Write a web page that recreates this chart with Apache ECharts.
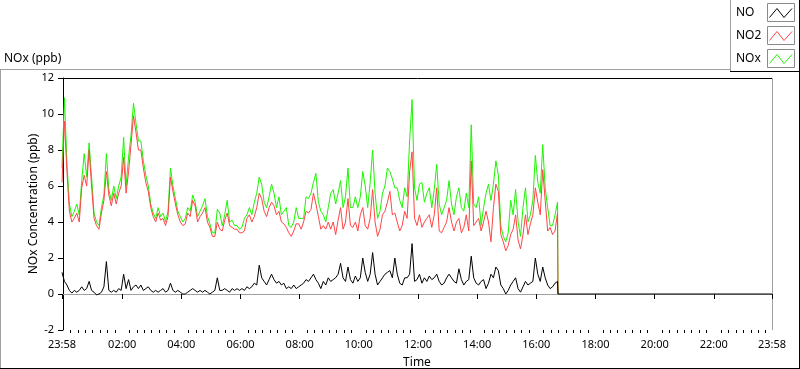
<!DOCTYPE html>
<html>
<head>
<meta charset="utf-8">
<script src="https://cdn.jsdelivr.net/npm/echarts@6/dist/echarts.min.js"></script>
<style>
html,body{margin:0;padding:0;background:#fff;}
#chart{width:800px;height:369px;}
</style>
</head>
<body>
<div id="chart"></div>
<script>
// ---- data (minutes relative to midnight; 23:58 of the previous day = -2) ----
const startMinute = -2;
const stepMinutes = 5;
const dataEndMinute = 1004;   // logging stops here, traces fall to 0
const axisEndMinute = 1438;   // 23:58

const noValues = [
  1.2,0.7,0.5,0.2,0.05,0.2,0.1,0.2,0.4,0.2,
  0.3,0.7,0.2,0.1,-0.05,0.0,0.1,0.4,1.8,0.2,
  0.1,0.2,0.1,0.3,0.2,1.1,0.3,0.8,0.2,0.4,
  0.5,0.3,0.5,0.2,0.3,0.4,0.2,0.1,0.2,0.1,
  0.2,0.3,0.1,0.2,0.6,0.2,0.1,0.2,0.1,0.0,
  0.0,0.1,0.2,0.3,0.2,0.1,0.2,0.1,0.2,0.1,
  0.0,0.1,0.2,0.9,0.2,0.2,0.3,0.2,0.1,0.3,
  0.2,0.3,0.2,0.3,0.2,0.4,0.3,0.4,0.6,0.5,
  1.6,0.9,0.7,0.5,0.8,1.1,0.8,0.6,0.7,0.5,
  0.6,0.3,0.4,0.3,0.5,0.3,0.4,0.5,0.6,0.8,
  0.7,0.9,1.1,0.8,0.6,0.3,0.7,0.5,0.9,0.7,
  0.8,0.9,1.1,1.7,0.9,0.7,1.5,0.8,0.6,1.0,
  0.7,0.9,2.0,1.2,0.7,1.1,2.3,1.1,0.5,0.7,
  0.9,1.1,1.2,1.3,0.9,2.0,1.1,0.6,0.5,0.9,
  0.9,1.1,2.8,0.7,0.8,1.1,0.6,0.9,0.7,1.0,
  0.8,0.9,1.1,0.7,0.5,0.6,0.9,1.1,0.9,0.7,
  0.6,1.4,0.8,0.5,0.7,0.8,2.1,0.9,0.6,0.5,
  0.7,0.8,0.3,0.6,1.1,0.9,1.5,1.3,0.5,0.3,
  0.0,0.2,0.5,0.7,0.9,0.3,0.1,0.4,0.7,0.5,
  0.6,0.7,2.0,1.1,0.7,1.5,0.9,0.5,0.3,0.4,
  0.6,0.7
];

const no2Values = [
  6.2,9.6,6.8,4.6,4.0,4.2,4.5,4.0,5.9,6.6,
  6.0,8.0,6.0,4.2,3.8,3.6,4.5,5.2,6.8,5.5,
  4.9,5.6,5.0,5.6,6.0,7.6,5.6,6.8,8.3,9.9,
  9.0,8.0,8.0,7.0,6.2,5.7,4.8,4.3,4.0,4.5,
  4.1,4.2,3.8,4.3,6.5,5.7,5.0,4.4,4.0,3.8,
  3.9,4.5,4.3,5.2,4.9,4.0,4.3,4.5,4.8,4.0,
  3.7,3.2,3.2,4.0,3.6,3.5,4.1,4.5,3.8,3.7,
  3.6,3.6,3.4,3.4,3.5,4.2,4.4,4.0,4.3,4.8,
  5.6,5.3,4.6,4.3,4.8,5.1,4.9,4.4,4.6,4.0,
  3.9,3.7,3.4,3.2,3.5,3.9,3.9,3.6,4.0,4.6,
  4.5,4.7,5.6,5.0,4.3,3.6,3.8,3.6,4.0,3.6,
  4.0,3.3,4.1,4.8,3.6,4.0,5.3,3.8,3.7,4.0,
  3.5,4.4,4.8,3.8,3.6,4.2,5.8,4.0,3.2,3.6,
  4.4,4.6,5.1,5.7,4.4,4.5,4.0,3.5,3.8,4.6,
  4.2,6.8,7.9,4.2,3.8,4.4,3.7,4.0,4.2,4.4,
  3.7,4.4,5.9,3.5,3.4,3.7,4.0,4.8,4.0,3.5,
  4.0,4.2,3.4,3.7,4.4,3.5,7.4,3.8,4.0,4.2,
  3.5,4.0,4.6,4.0,2.9,4.8,6.1,5.7,3.3,2.9,
  2.4,2.7,3.3,3.6,4.4,3.0,2.5,3.3,4.4,3.3,
  3.9,4.4,5.9,5.1,4.4,6.9,5.2,3.5,3.7,3.3,
  3.5,4.5
];

const noxValues = [
  7.0,10.9,7.3,5.0,4.3,4.6,5.0,4.4,6.3,7.8,
  6.5,8.4,6.5,4.5,4.0,3.8,4.8,5.5,7.8,5.8,
  5.2,6.0,5.3,6.0,6.5,8.7,6.0,7.6,8.8,10.6,
  9.5,8.5,8.5,7.4,6.6,6.0,5.0,4.5,4.2,4.8,
  4.3,4.5,4.0,4.6,7.0,6.0,5.3,4.6,4.3,4.0,
  4.2,4.8,4.6,5.5,5.1,4.3,4.6,4.9,5.3,4.3,
  3.9,3.4,3.4,4.7,4.5,3.8,4.4,5.2,4.0,4.1,
  3.8,3.8,3.6,3.7,4.2,4.4,4.8,4.4,5.1,5.6,
  6.5,6.1,5.1,4.8,5.4,6.1,5.6,4.8,5.4,4.4,
  4.6,4.8,3.8,3.7,4.0,4.8,4.2,4.2,4.2,5.4,
  5.3,5.6,6.2,6.7,5.1,4.6,4.4,4.0,4.8,5.6,
  5.8,5.0,5.6,6.3,4.8,5.4,7.0,4.8,4.8,5.4,
  4.8,5.4,6.8,6.0,4.8,6.2,8.0,5.6,4.2,4.6,
  5.6,6.0,7.0,6.8,6.4,5.9,5.9,5.2,4.8,5.9,
  5.4,8.5,10.8,5.9,5.2,6.1,6.2,5.1,5.6,5.9,
  4.8,5.8,7.2,5.0,4.4,4.8,5.2,6.3,5.0,4.4,
  5.4,5.9,4.8,4.6,5.6,4.8,9.4,5.0,4.8,5.4,
  3.8,4.8,5.6,6.1,5.2,6.1,7.4,6.6,3.8,3.2,
  2.9,3.4,5.2,4.4,5.8,4.0,3.2,4.8,5.9,4.0,
  4.4,5.2,7.7,6.2,5.6,8.3,5.9,4.8,3.8,3.8,
  4.4,5.1
];

const seriesNames = ['NO', 'NO2', 'NOx'];
const seriesColors = ['#000000', '#ff4545', '#1cf500'];

const xTickMinutes = [-2,120,240,360,480,600,720,840,960,1080,1200,1320,1438];
const xTickLabels  = ['23:58','02:00','04:00','06:00','08:00','10:00','12:00','14:00','16:00','18:00','20:00','22:00','23:58'];
const yMin = -2, yMax = 12, yStep = 2;

// ---- build series data ----
function toPairs(values) {
  return values.map((v, i) => [startMinute + i * stepMinutes, v]);
}
const noData = toPairs(noValues).concat([[dataEndMinute, 0], [axisEndMinute, 0]]);
const no2Data = toPairs(no2Values).concat([[dataEndMinute, 0]]);
const noxData = toPairs(noxValues).concat([[dataEndMinute, 0]]);

const minorTicks = [];
for (let m = 15; m < axisEndMinute; m += 15) {
  if (m % 120 !== 0) minorTicks.push(m);
}

const FONT = '"Noto Sans", sans-serif';
const chart = echarts.init(document.getElementById('chart'), null, {renderer: 'canvas'});

const grey = '#a0a0a0';
function hline(x1, x2, y, color) {
  return {type: 'line', shape: {x1: x1, y1: y, x2: x2, y2: y}, style: {stroke: color, lineWidth: 1}, silent: true};
}
function vline(x, y1, y2, color) {
  return {type: 'line', shape: {x1: x, y1: y1, x2: x, y2: y2}, style: {stroke: color, lineWidth: 1}, silent: true};
}

const legendGraphics = [];
seriesNames.forEach((name, i) => {
  const top = 3.5 + i * 23;
  legendGraphics.push({
    type: 'text', x: 736, y: top + 9.5,
    style: {text: name, fill: '#000', font: '12px ' + FONT, verticalAlign: 'middle', align: 'left'}
  });
  legendGraphics.push({
    type: 'rect', shape: {x: 767.5, y: top, width: 27, height: 18},
    style: {fill: '#fff', stroke: '#8a8a8a', lineWidth: 1}
  });
  legendGraphics.push({
    type: 'polyline',
    shape: {points: [[769.5, top + 14], [777, top + 5], [784, top + 14], [792, top + 5]]},
    style: {stroke: seriesColors[i], lineWidth: 1, fill: null}
  });
});

const option = {
  animation: false,
  backgroundColor: '#ffffff',
  grid: {left: 62, top: 78, right: 28, bottom: 39, containLabel: false, outerBoundsMode: 'none'},
  xAxis: [
    {
      type: 'value', min: startMinute, max: axisEndMinute,
      axisLine: {show: true, lineStyle: {color: grey, width: 1}},
      axisTick: {show: true, customValues: xTickMinutes, length: 5, lineStyle: {color: '#000'}},
      axisLabel: {
        show: true, customValues: xTickMinutes, margin: 9,
        color: '#000', fontSize: 11, fontFamily: FONT,
        formatter: function (v) { const i = xTickMinutes.indexOf(v); return i >= 0 ? xTickLabels[i] : ''; }
      },
      splitLine: {show: false},
      name: 'Time', nameLocation: 'middle', nameGap: 27, nameMoveOverlap: false,
      nameTextStyle: {color: '#000', fontSize: 12, fontFamily: FONT}
    },
    {
      type: 'value', min: startMinute, max: axisEndMinute, position: 'bottom',
      axisLine: {show: false},
      axisTick: {show: true, customValues: minorTicks, length: 3, lineStyle: {color: '#000'}},
      axisLabel: {show: false},
      splitLine: {show: false}
    }
  ],
  yAxis: {
    type: 'value', min: yMin, max: yMax, interval: yStep,
    axisLine: {show: true, lineStyle: {color: '#000', width: 1}},
    axisTick: {show: true, length: 5, lineStyle: {color: '#000'}},
    axisLabel: {color: '#000', fontSize: 11, fontFamily: FONT, margin: 8},
    splitLine: {show: false},
    name: 'NOx Concentration (ppb)', nameLocation: 'middle', nameGap: 22, nameMoveOverlap: false,
    nameTextStyle: {color: '#000', fontSize: 12, fontFamily: FONT}
  },
  series: [
    {name: 'NOx', type: 'line', data: noxData, showSymbol: false, symbol: 'none',
     lineStyle: {color: seriesColors[2], width: 1}, z: 2, animation: false},
    {name: 'NO2', type: 'line', data: no2Data, showSymbol: false, symbol: 'none',
     lineStyle: {color: seriesColors[1], width: 1}, z: 3, animation: false},
    {name: 'NO', type: 'line', data: noData, showSymbol: false, symbol: 'none',
     lineStyle: {color: seriesColors[0], width: 1}, z: 4, animation: false}
  ],
  graphic: [
    hline(0, 730, 69.5, grey),
    vline(0.5, 69, 369, grey),
    vline(799.5, 0, 369, '#000'),
    hline(0, 800, 368.5, '#000'),
    vline(730.5, 0, 72, grey),
    hline(730, 800, 71.5, '#000'),
    hline(62, 773, 78.5, '#000'),
    vline(772.5, 78, 330, grey),
    {type: 'text', x: 4, y: 59, style: {text: 'NOx (ppb)', fill: '#000', font: '12px ' + FONT, verticalAlign: 'middle', align: 'left'}}
  ].concat(legendGraphics)
};
chart.setOption(option);
</script>
</body>
</html>
